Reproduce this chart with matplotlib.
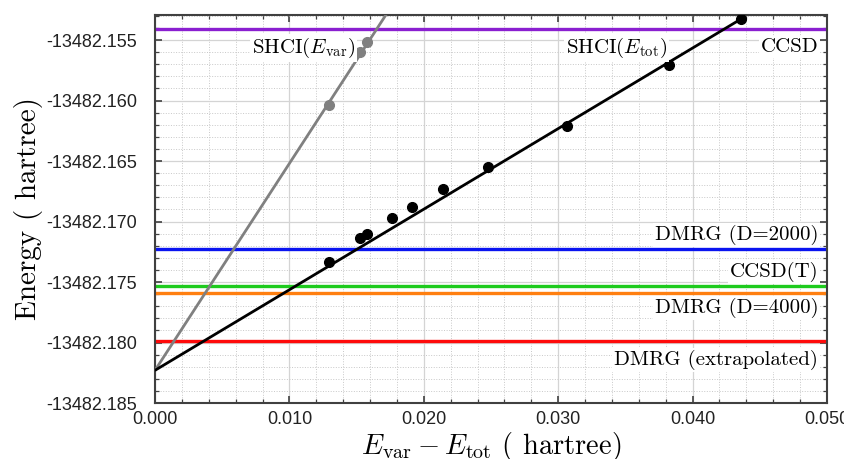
import numpy as np
import matplotlib
matplotlib.use('Agg')
import matplotlib.pyplot as plt
from matplotlib.ticker import MultipleLocator, FuncFormatter

plt.rcParams['mathtext.fontset'] = 'cm'
plt.rcParams['axes.unicode_minus'] = False

# SHCI data: x = E_var - E_tot (hartree)
dE = [0.01295, 0.01525, 0.01577, 0.01763, 0.01912, 0.02143, 0.02478, 0.03065, 0.03824, 0.04360]
e_tot = [-13482.173321, -13482.171388, -13482.171032, -13482.169735, -13482.168776,
         -13482.167338, -13482.165470, -13482.162082, -13482.157066, -13482.153265]
dE_var = [0.01295, 0.01525, 0.01577]
e_var = [-13482.160372, -13482.155967, -13482.155190]

# linear extrapolations (common intercept at dE = 0)
fit_intercept = -13482.1823
fit_slope_tot = 0.666
fit_slope_var = 1.71

# reference energies
ref_names = ['CCSD', 'DMRG (D=2000)', 'CCSD(T)', 'DMRG (D=4000)', 'DMRG (extrapolated)']
ref_vals = [-13482.154116, -13482.172272, -13482.175355, -13482.175908, -13482.179900]
ref_colors = ['#8a1fd0', '#0a14f0', '#1ecb1e', '#ff7f10', '#ff0a0a']
# baseline of each label (hartree)
ref_text_y = [-13482.155967, -13482.171528, -13482.174586, -13482.177561, -13482.181858]

fig = plt.figure(figsize=(8.45, 4.59), dpi=100)
ax = fig.add_axes([155/845, 1-403/459, 672/845, 388/459])

xs = np.array([0.0, 0.05])
ax.plot(xs, fit_intercept + fit_slope_var*xs, color='#808080', lw=2.0, zorder=3)
ax.plot(dE_var, e_var, 'o', color='#808080', ms=7, zorder=4)
xt = np.array([0.0, max(dE)])
ax.plot(xt, fit_intercept + fit_slope_tot*xt, color='k', lw=2.0, zorder=3)
ax.plot(dE, e_tot, 'o', color='k', ms=7, zorder=4)

for v, c in zip(ref_vals, ref_colors):
    ax.axhline(v, color=c, lw=2.4, zorder=2)

bb = dict(facecolor='white', edgecolor='none', pad=1.5)
tfont = dict(family='cmr10', size=15)
for name, ty in zip(ref_names, ref_text_y):
    ax.text(0.04935, ty, name, ha='right', va='baseline', bbox=bb, zorder=5, **tfont)
ax.text(0.01488, -13482.156074, r'SHCI($E_{\mathrm{var}}$)', ha='right', va='baseline',
        bbox=bb, zorder=5, **tfont)
ax.text(0.03810, -13482.156074, r'SHCI($E_{\mathrm{tot}}$)', ha='right', va='baseline',
        bbox=bb, zorder=5, **tfont)

ax.set_xlim(0, 0.05)
ax.set_ylim(-13482.185, -13482.15293)
ax.xaxis.set_major_locator(MultipleLocator(0.01))
ax.xaxis.set_minor_locator(MultipleLocator(0.002))
ax.yaxis.set_major_locator(MultipleLocator(0.005))
ax.yaxis.set_minor_locator(MultipleLocator(0.001))
ax.xaxis.set_major_formatter(FuncFormatter(lambda v, p: '%.3f' % v))
ax.yaxis.set_major_formatter(FuncFormatter(lambda v, p: '%.3f' % v))

ax.grid(which='major', color='#d4d4d4', lw=0.9, ls='-', zorder=0)
ax.grid(which='minor', color='#c8c8c8', lw=0.7, ls=':', zorder=0)
ax.set_axisbelow(True)

for s in ax.spines.values():
    s.set_color('#404040')
    s.set_linewidth(1.5)
ax.tick_params(which='both', direction='in', top=True, right=True, colors='#404040')
ax.tick_params(which='major', length=5, width=1.2)
ax.tick_params(which='minor', length=3, width=0.9)
ax.tick_params(axis='y', which='major', pad=13, labelsize=13, labelcolor='#222222')
ax.tick_params(axis='x', which='major', pad=6, labelsize=13, labelcolor='#222222')
for lab in ax.get_xticklabels() + ax.get_yticklabels():
    lab.set_family('Liberation Sans')

ax.set_ylabel('Energy ( hartree)', family='cmr10', fontsize=21, labelpad=2)
ax.set_xlabel(r'$E_{\mathrm{var}} - E_{\mathrm{tot}}$ ( hartree)', family='cmr10', fontsize=20.5,
              labelpad=1)

fig.savefig('out.png', dpi=100)
